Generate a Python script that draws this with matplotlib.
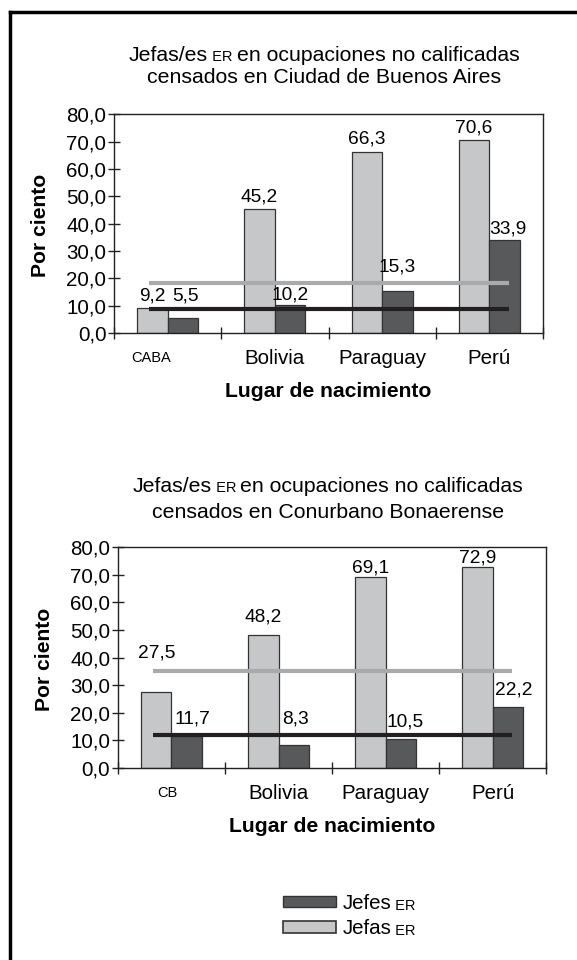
import matplotlib
matplotlib.use('Agg')
import matplotlib.pyplot as plt
from matplotlib.lines import Line2D
from matplotlib.patches import Patch
import numpy as np

plt.rcParams['font.family'] = ['Liberation Sans', 'DejaVu Sans']

# datos
categorias_1 = ['CABA', 'Bolivia', 'Paraguay', 'Perú']
categorias_2 = ['CB', 'Bolivia', 'Paraguay', 'Perú']
jefas_1 = [9.2, 45.2, 66.3, 70.6]
jefes_1 = [5.5, 10.2, 15.3, 33.9]
jefas_2 = [27.5, 48.2, 69.1, 72.9]
jefes_2 = [11.7, 8.3, 10.5, 22.2]
prom_jefas_1 = 18.4
prom_jefes_1 = 8.6
prom_jefas_2 = 35.0
prom_jefes_2 = 11.9
yticks = [0, 10, 20, 30, 40, 50, 60, 70, 80]

# altura de las etiquetas (posicion manual, como en el original)
lbl_jefas_1 = [13.5, 49.7, 71.0, 75.0]
lbl_jefes_1 = [13.5, 13.8, 24.1, 38.2]
lbl_jefas_2 = [41.5, 54.8, 72.4, 76.2]
lbl_jefes_2 = [17.9, 17.9, 16.8, 28.2]
lbl_dx_jefes_1 = [0.02, 0.0, 0.0, 0.03]
lbl_dx_jefes_2 = [0.05, 0.02, 0.04, 0.06]

c_jefas = '#c6c7c8'
c_jefes = '#58595b'
c_linea_jefas = '#a9aaab'
c_linea_jefes = '#231f20'
borde = '#333333'

FS = 14.8   # texto general
FS_SC = 10.5  # versalitas "ER", CABA, CB

fig = plt.figure(figsize=(5.77, 9.6), dpi=100)
W = 0.285


def titulo(xc, y, pre, post, fs):
    # titulo en piezas: pre + ER (chico) + post, centrado en xc
    r = fig.canvas.get_renderer()
    piezas = []
    if pre:
        piezas.append(fig.text(0, y, pre, fontsize=fs, va='baseline'))
        piezas.append(fig.text(0, y, ' ER ', fontsize=FS_SC, va='baseline'))
    piezas.append(fig.text(0, y, post, fontsize=fs, va='baseline'))
    anchos = [p.get_window_extent(r).width / fig.bbox.width for p in piezas]
    x0 = xc - sum(anchos) / 2
    for p, w in zip(piezas, anchos):
        p.set_x(x0)
        x0 += w


def panel(rect, cats, jefas, jefes, pj, pm, lj, lm, dxm, cat0_x):
    ax = fig.add_axes(rect)
    x = np.arange(len(cats)) + 0.5
    ax.bar(x - W / 2, jefas, W, color=c_jefas, edgecolor=borde, linewidth=0.9, zorder=2)
    ax.bar(x + W / 2, jefes, W, color=c_jefes, edgecolor=borde, linewidth=0.9, zorder=2)
    ax.plot([0.33, 3.68], [pj, pj], color=c_linea_jefas, lw=3.0, zorder=3, solid_capstyle='butt')
    ax.plot([0.33, 3.68], [pm, pm], color=c_linea_jefes, lw=3.0, zorder=3, solid_capstyle='butt')
    for i in range(len(cats)):
        ax.text(x[i] - W / 2, lj[i], f'{jefas[i]:.1f}'.replace('.', ','),
                ha='center', va='center', fontsize=13.8)
        ax.text(x[i] + W / 2 + dxm[i], lm[i], f'{jefes[i]:.1f}'.replace('.', ','),
                ha='center', va='center', fontsize=13.8)
    ax.set_xlim(0, 4)
    ax.set_ylim(0, 80)
    ax.set_yticks(yticks)
    ax.set_yticklabels([f'{v:.1f}'.replace('.', ',') for v in yticks], fontsize=FS)
    ax.set_xticks([0, 1, 2, 3, 4])
    ax.set_xticklabels([])
    ax.tick_params(axis='both', direction='inout', length=8, width=1, color='#222222', pad=1.5)
    for s in ax.spines.values():
        s.set_linewidth(1)
        s.set_color('#222222')
    tr = ax.get_xaxis_transform()
    ax.text(cat0_x, -0.115, cats[0], fontsize=FS_SC, ha='center', va='center', transform=tr)
    for i in range(1, len(cats)):
        ax.text(x[i], -0.115, cats[i], fontsize=FS, ha='center', va='center', transform=tr)
    ax.text(0.5, -0.265, 'Lugar de nacimiento', fontsize=FS + 0.4, fontweight='bold',
            ha='center', va='center', transform=ax.transAxes)
    ax.text(-0.172, 0.49, 'Por ciento', fontsize=FS + 0.4, fontweight='bold', rotation=90,
            ha='center', va='center', transform=ax.transAxes)
    return ax


r1 = [0.1976, 0.6531, 0.7435, 0.228]
r2 = [0.2045, 0.2, 0.7418, 0.2302]
ax1 = panel(r1, categorias_1, jefas_1, jefes_1, prom_jefas_1, prom_jefes_1,
            lbl_jefas_1, lbl_jefes_1, lbl_dx_jefes_1, 0.35)
ax2 = panel(r2, categorias_2, jefas_2, jefes_2, prom_jefas_2, prom_jefes_2,
            lbl_jefas_2, lbl_jefes_2, lbl_dx_jefes_2, 0.46)

fig.canvas.draw()
xc1 = r1[0] + r1[2] * 0.49
xc2 = r2[0] + r2[2] * 0.49
titulo(xc1, 1 - 61 / 960, 'Jefas/es', 'en ocupaciones no calificadas', 15.3)
titulo(xc1, 1 - 83 / 960, '', 'censados en Ciudad de Buenos Aires', 15.3)
titulo(xc2, 1 - 492 / 960, 'Jefas/es', 'en ocupaciones no calificadas', 15.3)
titulo(xc2, 1 - 518 / 960, '', 'censados en Conurbano Bonaerense', 15.3)

# leyenda
handles = [Patch(facecolor=c_jefes, edgecolor=borde, linewidth=1),
           Patch(facecolor=c_jefas, edgecolor=borde, linewidth=1.2)]
leg = fig.legend(handles, ['Jefes', 'Jefas'], loc='center left',
                 bbox_to_anchor=(283 / 577, 1 - 916 / 960), frameon=False,
                 fontsize=FS, handlelength=2.6, handleheight=0.5,
                 handletextpad=0.3, labelspacing=0.3, borderpad=0, borderaxespad=0)
fig.canvas.draw()
r = fig.canvas.get_renderer()
for t in leg.get_texts():
    bb = t.get_window_extent(r)
    fig.text(bb.x1 / fig.bbox.width, bb.y0 / fig.bbox.height, ' ER',
             fontsize=FS_SC, va='bottom', ha='left')

# marco (borde izquierdo y superior)
fig.add_artist(Line2D([10 / 577, 10 / 577], [0, 1 - 12 / 960], color='black', lw=2.5,
                      transform=fig.transFigure))
fig.add_artist(Line2D([10 / 577, 1], [1 - 12 / 960, 1 - 12 / 960], color='black', lw=2.5,
                      transform=fig.transFigure))

fig.savefig('out.png', dpi=100)
